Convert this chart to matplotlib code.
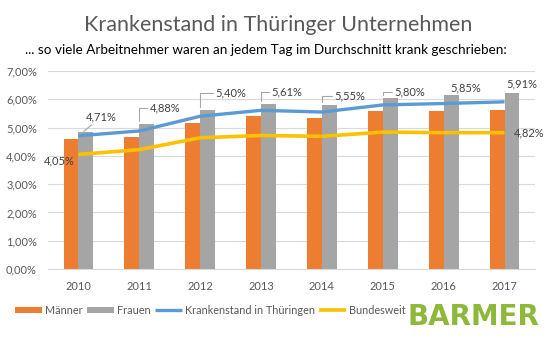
import matplotlib
matplotlib.use("Agg")
import matplotlib.pyplot as plt
import numpy as np
from matplotlib.ticker import FuncFormatter, MultipleLocator

years = ["2010", "2011", "2012", "2013", "2014", "2015", "2016", "2017"]
maenner = [4.59, 4.66, 5.17, 5.41, 5.34, 5.59, 5.59, 5.62]
frauen = [4.85, 5.12, 5.62, 5.83, 5.80, 6.05, 6.16, 6.23]
thueringen = [4.71, 4.88, 5.40, 5.61, 5.55, 5.80, 5.85, 5.91]
bundesweit = [4.05, 4.22, 4.64, 4.72, 4.69, 4.84, 4.82, 4.82]

# label offsets in pixels from the data point, and which leader is drawn
th_offsets = [(23, 19), (26, 23), (31, 23), (26, 18), (28, 16), (27, 13), (22, 16), (17, 18)]
th_leader = ["arc3", "angle", "angle", "angle", "angle", "angle", "arc3", None]

ORANGE = "#ED7D31"
GRAY = "#A5A5A5"
BLUE = "#5B9BD5"
YELLOW = "#FFC000"
TXT = "#595959"


def pct(v, _pos=None):
    return f"{v:.2f}%".replace(".", ",")


plt.rcParams["font.family"] = ["Lato", "DejaVu Sans"]

fig = plt.figure(figsize=(5.56, 3.38), dpi=100)
ax = fig.add_axes([48 / 556, 1 - 269 / 338, (535 - 48) / 556, (269 - 71) / 338])

x = np.arange(len(years))
w = 0.245
bm = ax.bar(x - w / 2, maenner, w, color=ORANGE, label="Männer", zorder=2)
bf = ax.bar(x + w / 2, frauen, w, color=GRAY, label="Frauen", zorder=2)
lt, = ax.plot(x, thueringen, color=BLUE, lw=2.4, label="Krankenstand in Thüringen", zorder=3,
              solid_capstyle="butt")
lb, = ax.plot(x, bundesweit, color=YELLOW, lw=2.6, label="Bundesweit", zorder=3, solid_capstyle="butt")

for i, v in enumerate(thueringen):
    style = th_leader[i]
    props = None
    if style == "angle":
        props = dict(arrowstyle="-", color="#A6A6A6", lw=0.8, shrinkA=0, shrinkB=7,
                     connectionstyle="angle,angleA=0,angleB=90,rad=0")
    elif style == "arc3":
        props = dict(arrowstyle="-", color="#A6A6A6", lw=0.8, shrinkA=0, shrinkB=5)
    ax.annotate(pct(v), (x[i], v), xytext=th_offsets[i], textcoords="offset pixels",
                ha="center", va="center", fontsize=8, color="#404040", arrowprops=props, zorder=4)

ax.annotate(pct(bundesweit[0]), (x[0], bundesweit[0]), xytext=(-19, -6), textcoords="offset pixels",
            ha="center", va="center", fontsize=8, color="#404040", zorder=4)
ax.annotate(pct(bundesweit[-1]), (x[-1], bundesweit[-1]), xytext=(25, 0), textcoords="offset pixels",
            ha="center", va="center", fontsize=8, color="#404040", zorder=4)

ax.set_xlim(-0.5, len(years) - 0.5)
ax.set_ylim(0, 7)
ax.yaxis.set_major_locator(MultipleLocator(1))
ax.yaxis.set_major_formatter(FuncFormatter(pct))
ax.set_xticks(x)
ax.set_xticklabels(years)
ax.tick_params(length=0, labelsize=8, colors=TXT)
ax.tick_params(axis="x", pad=9)
ax.tick_params(axis="y", pad=8)
ax.grid(axis="y", color="#D9D9D9", lw=0.8, zorder=0)
ax.set_axisbelow(True)
for s in ["top", "right", "left"]:
    ax.spines[s].set_visible(False)
ax.spines["bottom"].set_color("#D9D9D9")

fig.text(278 / 556, 1 - 25 / 338, "Krankenstand in Thüringer Unternehmen", ha="center", va="center",
         fontsize=15.5, color=TXT)
fig.text(25 / 556, 1 - 50 / 338, "... so viele Arbeitnehmer waren an jedem Tag im Durchschnitt krank geschrieben:",
         ha="left", va="center", fontsize=9.7, color="black")

fig.legend([bm, bf, lt, lb], ["Männer", "Frauen", "Krankenstand in Thüringen", "Bundesweit"],
           loc="center left", bbox_to_anchor=(15 / 556, 1 - 310 / 338), ncol=4,
           frameon=False, fontsize=7.8, labelcolor=TXT, handlelength=2.5, handleheight=0.45,
           handletextpad=0.28, columnspacing=0.37, borderaxespad=0, borderpad=0)

fig.text(408 / 556, 1 - 317 / 338, "BARMER", ha="left", va="center", fontsize=20,
         fontweight="bold", family="DejaVu Sans", color="#8DB83A")

fig.savefig("out.png", dpi=100)
